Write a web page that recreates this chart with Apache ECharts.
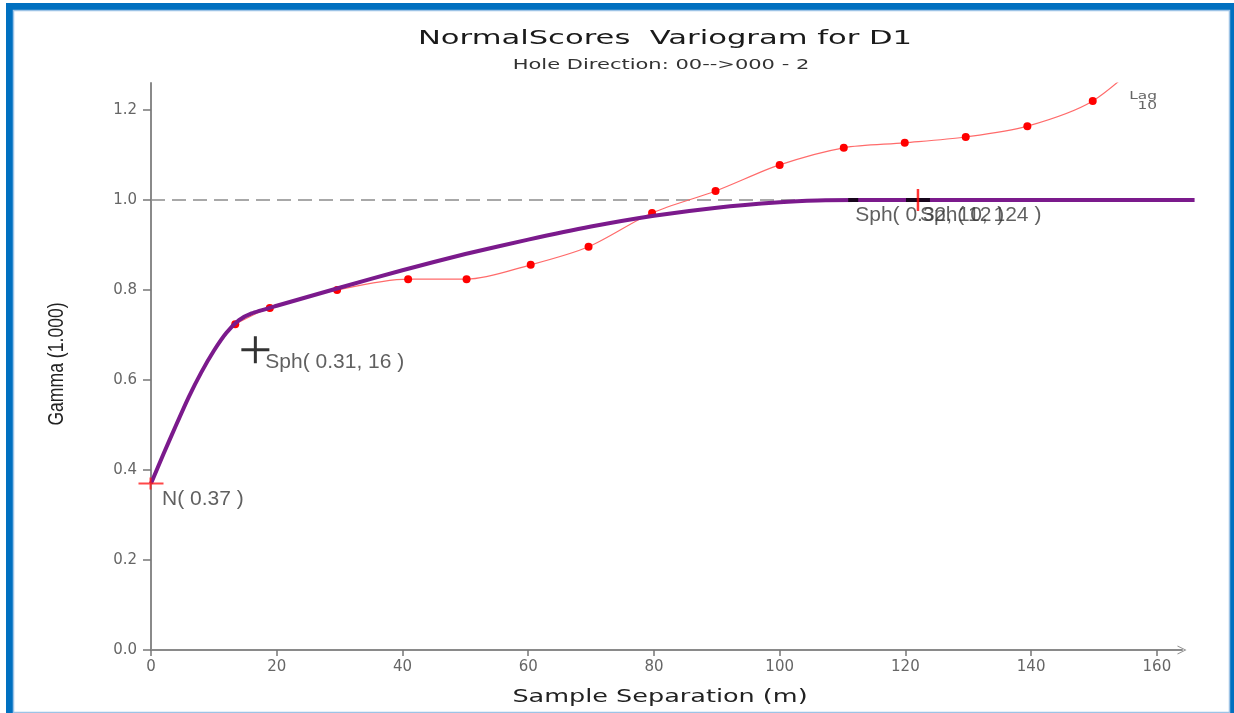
<!DOCTYPE html>
<html>
<head>
<meta charset="utf-8">
<title>NormalScores Variogram for D1</title>
<script src="https://cdn.jsdelivr.net/npm/echarts@6/dist/echarts.min.js"></script>
<style>
    html, body { margin: 0; padding: 0; background: #fff; }
    #variogram { width: 1234px; height: 713px; }
</style>
</head>
<body>
<div id="variogram"></div>
<script>
    // tick labels
    const xTicks = [0, 20, 40, 60, 80, 100, 120, 140, 160]
    const yTicks = [0, 0.2, 0.4, 0.6, 0.8, 1.0, 1.2]

    // experimental variogram (red dots)
    const lagX = [13.4, 18.9, 29.6, 40.9, 50.2, 60.4, 69.6, 79.7, 89.8, 100.0, 110.2, 119.9, 129.6, 139.4, 149.8, 160]
    const lagGamma = [0.724, 0.760, 0.800, 0.824, 0.824, 0.856, 0.896, 0.971, 1.020, 1.078, 1.116, 1.127, 1.140, 1.164, 1.220, 1.34]

    // fitted model (purple)
    const modelX = [0, 2, 4, 6, 8, 10, 12, 14, 16, 20, 30, 40, 50, 60, 70, 80, 90, 100, 106, 112, 166]
    const modelGamma = [0.37, 0.436, 0.50, 0.562, 0.617, 0.665, 0.705, 0.733, 0.748, 0.765, 0.805, 0.844, 0.880, 0.912, 0.941, 0.965, 0.983, 0.995, 0.999, 1.0, 1.0]

    const sill = 1.0

    // structure markers
    const markerX = [0, 16.6, 111.7, 122]
    const markerGamma = [0.37, 0.667, 1.0, 1.0]
    const markerText = ['N( 0.37 )', 'Sph( 0.31, 16 )', 'Sph( 0.32, 112 )', 'Sph( 0, 124 )']

    const pts = (xs, ys) => xs.map((x, i) => [x, ys[i]])

    const labelOffsets = [[11, 16], [10, 12], [2, 15], [2, 15]]
    const markerLabels = markerX.map((x, i) => ({
        value: [x, markerGamma[i]],
        label: { offset: labelOffsets[i] }
    }))

    const axisText = { color: '#666', fontSize: 15, fontFamily: 'DejaVu Sans' }

    // same px per metre in both grids; the model grid just runs a bit further right
    const xMax = 164
    const modelXMax = 166
    const pxPerM = (1234 - 151 - 52) / xMax

    const option = {
        animation: false,
        backgroundColor: '#fff',
        grid: [
            { left: 151, right: 52, top: 83, bottom: 63 },
            { left: 151, right: 1234 - 151 - pxPerM * modelXMax, top: 83, bottom: 63 }
        ],
        xAxis: [{
            type: 'value',
            gridIndex: 0,
            min: 0,
            max: xMax,
            axisLine: {
                show: true,
                symbol: ['none', 'path://M0,10 L5,0 L10,10 L9,10 L5,2 L1,10 Z'],
                symbolSize: [12, 9],
                lineStyle: { color: '#8a8a8a', width: 2 }
            },
            axisTick: { show: true, length: 6, customValues: xTicks, lineStyle: { color: '#777', width: 1.5 } },
            axisLabel: Object.assign({ margin: 10, customValues: xTicks }, axisText),
            splitLine: { show: false }
        }, {
            type: 'value',
            gridIndex: 1,
            min: 0,
            max: modelXMax,
            show: false
        }],
        yAxis: [{
            type: 'value',
            gridIndex: 0,
            min: 0,
            max: 1.26,
            axisLine: { show: true, lineStyle: { color: '#8a8a8a', width: 2 } },
            axisTick: { show: true, length: 8, customValues: yTicks, lineStyle: { color: '#777', width: 1.5 } },
            axisLabel: Object.assign({
                margin: 14,
                customValues: yTicks,
                formatter: v => v.toFixed(1)
            }, axisText),
            splitLine: { show: false }
        }, {
            type: 'value',
            gridIndex: 1,
            min: 0,
            max: 1.26,
            show: false
        }],
        graphic: [
            // frame
            { type: 'rect', silent: true, shape: { x: 9.5, y: 6.5, width: 1224, height: 720 },
                style: { fill: 'none', stroke: '#0070C0', lineWidth: 7 } },
            { type: 'rect', silent: true, shape: { x: 13.5, y: 10.5, width: 1216, height: 702 },
                style: { fill: 'none', stroke: '#9DC3E6', lineWidth: 1.5 } },
            // titles
            { type: 'text', x: 665, y: 39, scaleX: 1.53, silent: true,
                style: { text: 'NormalScores  Variogram for D1', font: '20px "DejaVu Sans"', fill: '#1a1a1a',
                    textAlign: 'center', textVerticalAlign: 'middle' } },
            { type: 'text', x: 661, y: 65, scaleX: 1.5, silent: true,
                style: { text: 'Hole Direction: 00-->000 - 2', font: '14px "DejaVu Sans"', fill: '#333',
                    textAlign: 'center', textVerticalAlign: 'middle' } },
            { type: 'text', x: 660, y: 698, scaleX: 1.5, silent: true,
                style: { text: 'Sample Separation (m)', font: '17px "DejaVu Sans"', fill: '#222',
                    textAlign: 'center', textVerticalAlign: 'middle' } },
            { type: 'text', x: 57, y: 364, rotation: Math.PI / 2, scaleX: 0.8, silent: true,
                style: { text: 'Gamma (1.000)', font: '22px "Liberation Sans"', fill: '#222',
                    textAlign: 'center', textVerticalAlign: 'middle' } },
            { type: 'text', x: 1157, y: 96, scaleX: 1.4, silent: true,
                style: { text: 'Lag', font: '11px "DejaVu Sans"', fill: '#666', textAlign: 'right', textVerticalAlign: 'middle' } },
            { type: 'text', x: 1157, y: 106, scaleX: 1.4, silent: true,
                style: { text: '10', font: '11px "DejaVu Sans"', fill: '#666', textAlign: 'right', textVerticalAlign: 'middle' } }
        ],
        series: [
            {
                name: 'experimental',
                type: 'line',
                data: pts(lagX, lagGamma),
                smooth: 0.3,
                clip: true,
                symbol: 'circle',
                symbolSize: 8,
                itemStyle: { color: '#ff0000' },
                lineStyle: { color: '#ff6b6b', width: 1.2 },
                z: 2,
                markLine: {
                    silent: true,
                    z: 1,
                    symbol: 'none',
                    label: { show: false },
                    lineStyle: { color: '#8c8c8c', type: [14, 7], width: 1.5 },
                    data: [{ yAxis: sill }]
                }
            },
            {
                name: 'model',
                type: 'line',
                xAxisIndex: 1,
                yAxisIndex: 1,
                data: pts(modelX, modelGamma),
                smooth: 0.2,
                showSymbol: false,
                lineStyle: { color: '#7B1A8C', width: 4 },
                z: 3
            },
            {
                // nugget cross
                type: 'scatter',
                data: [[markerX[0], markerGamma[0]]],
                symbol: 'path://M0,5H25V7H0Z M11,0H13V12H11Z',
                symbolSize: [25, 12],
                itemStyle: { color: '#ff1a1a' },
                z: 4
            },
            {
                // first spherical structure
                type: 'scatter',
                data: [[markerX[1], markerGamma[1]]],
                symbol: 'path://M0,12H28V15H0Z M12.5,0H15.5V27H12.5Z',
                symbolSize: [28, 27],
                itemStyle: { color: '#000' },
                z: 4
            },
            {
                // range ticks on the sill
                type: 'scatter',
                data: [[markerX[2], markerGamma[2]]],
                symbol: 'rect',
                symbolSize: [10, 4],
                itemStyle: { color: '#000' },
                z: 4
            },
            {
                type: 'scatter',
                data: [[markerX[3], markerGamma[3]]],
                symbol: 'rect',
                symbolSize: [24, 4],
                itemStyle: { color: '#000' },
                z: 4
            },
            {
                type: 'scatter',
                data: [[markerX[3], markerGamma[3]]],
                symbol: 'rect',
                symbolSize: [2.5, 22],
                itemStyle: { color: '#ff0000' },
                z: 5
            },
            {
                // marker labels
                type: 'scatter',
                data: markerLabels,
                symbolSize: 1,
                itemStyle: { color: 'rgba(0,0,0,0)' },
                label: {
                    show: true,
                    position: 'inside',
                    align: 'left',
                    verticalAlign: 'middle',
                    formatter: p => markerText[p.dataIndex],
                    color: '#383838',
                    fontSize: 21,
                    fontFamily: 'Liberation Sans'
                },
                z: 6
            }
        ]
    }

    const chart = echarts.init(document.getElementById('variogram'))
    chart.setOption(option)
    window.addEventListener('resize', () => chart.resize())
</script>
</body>
</html>
